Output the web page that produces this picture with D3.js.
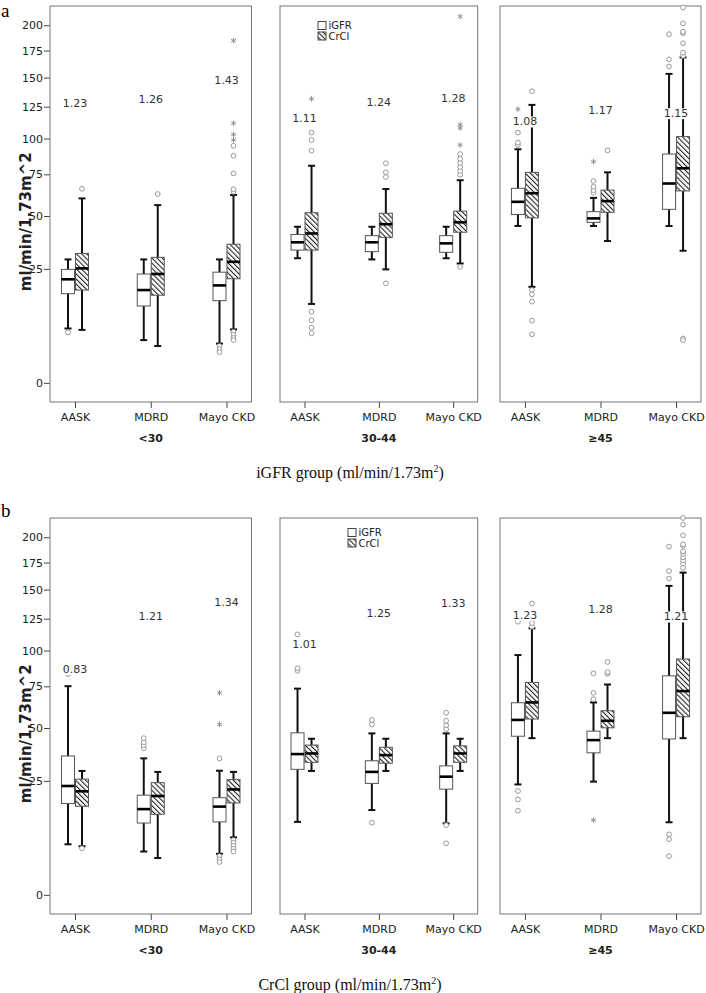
<!DOCTYPE html>
<html><head><meta charset="utf-8">
<script src="https://cdn.jsdelivr.net/npm/d3@7"></script>
<style>body{margin:0;background:#fff}svg{display:block}</style>
</head><body>
<script>
// ---------- data ----------
const facets = ["<30", "30-44", "\u226545"];
const studies = ["AASK", "MDRD", "Mayo CKD"];
const seriesNames = ["iGFR", "CrCl"];
const yTicks = [0, 25, 50, 75, 100, 125, 150, 175, 200];

// Panel a (iGFR group): [min, q1, median, q3, max] per facet x study
const aIGFR = [
  [6.5, 16.0, 21.0, 24.8, 28.9], [4.2, 12.2, 17.2, 23.0, 28.9], [3.6, 13.8, 18.8, 23.7, 28.9],
  [29.4, 33.0, 36.6, 40.4, 44.3], [28.9, 32.3, 36.6, 39.8, 44.3], [29.4, 32.0, 36.1, 39.8, 44.3],
  [44.7, 50.8, 58.0, 66.1, 92.2], [44.7, 46.6, 48.7, 52.4, 60.3], [44.7, 53.7, 69.1, 88.8, 153.3]
];
const aCrCl = [
  [6.2, 17.2, 25.2, 31.5, 60.0], [3.2, 15.5, 23.0, 29.8, 56.1], [6.3, 21.2, 27.9, 35.7, 62.0],
  [12.8, 33.0, 40.9, 51.8, 80.7], [24.8, 39.0, 45.6, 51.5, 65.7], [27.2, 41.5, 46.6, 52.7, 71.2],
  [18.3, 49.0, 63.1, 76.3, 126.5], [37.2, 52.0, 58.4, 65.0, 76.3], [32.7, 64.5, 79.0, 101.5, 168.5]
];
const aIGFRCircles = [
  [5.7], [], [3.2, 2.7, 2.3],
  [], [], [],
  [95.3, 97, 104.5], [63.4, 65, 67.1, 70.7], [160, 166.7, 191]
];
const aCrClCircles = [
  [65.8], [62.6], [64, 65.5, 75.6, 87.6, 94.7, 5.8, 5.2, 4.6, 4.2],
  [91.2, 99, 104.5, 10.6, 8.4, 6.7, 5.5], [73.3, 76.3, 82.4, 19.5], [74.8, 77.3, 79.9, 82.6, 85.5, 88.8, 25.8],
  [138, 17.2, 15.8, 13.5, 8.3, 5.3], [91.4], [170, 173, 182, 192, 193.5, 202, 218.5, 4.5, 4.2]
];
const aIGFRStars = [[], [], [], [], [], [], [123], [83.5], []];
const aCrClStars = [[], [], [99, 103, 111.7, 184.6], [131.6], [], [95.3, 108, 110.5, 209], [], [], []];
const aRatios = ["1.23", "1.26", "1.43", "1.11", "1.24", "1.28", "1.08", "1.17", "1.15"];
const aRatioAt = [128, 131, 148, 115.6, 128.6, 131.8, 113, 122.2, 119.6];

// Panel b (CrCl group)
const bIGFR = [
  [5.7, 16.7, 23.0, 35.8, 75.1], [4.3, 10.8, 14.9, 19.6, 34.7], [3.9, 11.1, 15.7, 18.7, 29.2],
  [11.1, 29.8, 36.7, 47.4, 73.5], [14.6, 24.0, 28.7, 33.6, 47.1], [10.7, 21.8, 26.7, 31.3, 47.1],
  [23.6, 45.6, 54.5, 64.6, 96.7], [24.7, 37.3, 43.6, 48.3, 64.8], [11.0, 44.2, 58.6, 82.0, 153.3]
];
const bCrCl = [
  [5.3, 15.8, 21.0, 25.7, 29.1], [3.2, 13.3, 19.3, 24.3, 28.7], [7.2, 16.9, 21.7, 25.5, 28.7],
  [29.1, 32.9, 37.0, 41.1, 44.3], [29.1, 32.5, 36.2, 40.0, 44.3], [29.1, 32.9, 37.0, 40.7, 44.3],
  [44.6, 55.0, 64.8, 77.6, 117.2], [44.6, 50.1, 54.0, 59.8, 76.2], [44.6, 56.3, 71.9, 93.8, 165.5]
];
const bIGFRCircles = [
  [83.2], [39.5, 41, 42.5, 44.6], [34.7, 3.5, 3.0, 2.6],
  [85.5, 87.2, 112.4], [52, 54.5, 10.9], [49.4, 51.5, 54, 58.6, 10.2, 5.9],
  [122.5, 21.1, 18.1, 14.4], [66.8, 70.8, 83.7], [160, 166.9, 190.6, 7.9, 6.8, 3.5]
];
const bCrClCircles = [
  [4.9], [], [6.6, 6.0, 5.4, 4.8, 4.3],
  [], [], [],
  [118.5, 121.5, 137.7], [83.5, 84.5, 91.7], [170, 174, 177, 180, 183.6, 186, 191.4, 193, 202, 213, 220]
];
const bIGFRStars = [[], [], [52.0, 70.8], [], [], [], [], [11.6], []];
const bCrClStars = [[], [], [], [], [], [], [], [], []];
const bRatios = ["0.83", "1.21", "1.34", "1.01", "1.25", "1.33", "1.23", "1.28", "1.21"];
const bRatioAt = [86.7, 126.7, 139.3, 105, 129.4, 137.7, 128.2, 132.8, 126.7];

// ---------- layout ----------
const W = 706, H = 993;
const svg = d3.select("body").append("svg").attr("width", W).attr("height", H)
  .style("font-family", "'DejaVu Sans', sans-serif");

const defs = svg.append("defs");
defs.append("pattern").attr("id", "hatch").attr("patternUnits", "userSpaceOnUse")
  .attr("width", 3.6).attr("height", 3.6).attr("patternTransform", "rotate(-45)")
  .call(p => {
    p.append("rect").attr("width", 3.6).attr("height", 3.6).attr("fill", "#fff");
    p.append("line").attr("x1", 0).attr("x2", 0).attr("y1", 0).attr("y2", 3.6)
      .attr("stroke", "#222").attr("stroke-width", 2.2);
  });

const facetLeft = [50, 280, 500], facetRight = [251.5, 477.7, 701];
const plotTop = 6, plotBottom = 402;
const y = d3.scalePow().exponent(0.55).domain([-0.98, 220]).range([plotBottom, plotTop]);
const boxW = 14, capW = 7;

const panels = [
  {letter: "a", off: 0, title: "iGFR group (ml/min/1.73m", legend: [318, 21.5], letterY: 17,
   igfr: aIGFR, crcl: aCrCl, ic: aIGFRCircles, cc: aCrClCircles, is: aIGFRStars, cs: aCrClStars,
   ratios: aRatios, ratioAt: aRatioAt},
  {letter: "b", off: 512, title: "CrCl group (ml/min/1.73m", legend: [348, 16.5], letterY: 5,
   igfr: bIGFR, crcl: bCrCl, ic: bIGFRCircles, cc: bCrClCircles, is: bIGFRStars, cs: bCrClStars,
   ratios: bRatios, ratioAt: bRatioAt}
];

const star = d3.symbol().type(d3.symbolAsterisk).size(22);

panels.forEach(P => {
  const g = svg.append("g").attr("transform", `translate(0,${P.off})`);
  g.append("text").attr("x", 1).attr("y", P.letterY).text(P.letter)
    .attr("font-family", "'Liberation Serif', 'Times New Roman', serif").attr("font-size", 19).attr("fill", "#000");

  // y axis title
  g.append("text").attr("transform", `translate(31,${(y(100) + y(25)) / 2 + 18}) rotate(-90)`)
    .attr("text-anchor", "middle").attr("font-weight", "bold").attr("font-size", 15).attr("fill", "#222")
    .text("ml/min/1.73m^2");

  // y axis
  const ya = g.append("g").attr("transform", `translate(${facetLeft[0]},0)`)
    .call(d3.axisLeft(y).tickValues(yTicks).tickSize(6).tickPadding(1).tickFormat(d3.format("d")));
  ya.select(".domain").remove();
  ya.selectAll(".tick line").attr("stroke", "#444");
  ya.selectAll(".tick text").attr("font-size", 11).attr("fill", "#222").attr("font-family", "'DejaVu Sans', sans-serif");

  facets.forEach((fname, fi) => {
    const x = d3.scalePoint().domain(studies).range([facetLeft[fi], facetRight[fi]]).padding(0.33);
    const fg = g.append("g");
    fg.append("rect").attr("x", facetLeft[fi]).attr("y", plotTop)
      .attr("width", facetRight[fi] - facetLeft[fi]).attr("height", plotBottom - plotTop)
      .attr("fill", "none").attr("stroke", "#777").attr("stroke-width", 1);
    const xa = fg.append("g").attr("transform", `translate(0,${plotBottom})`)
      .call(d3.axisBottom(x).tickSize(6).tickPadding(5));
    xa.select(".domain").remove();
    xa.selectAll(".tick line").attr("stroke", "#444");
    xa.selectAll(".tick text").attr("font-size", 11).attr("fill", "#222").attr("font-family", "'DejaVu Sans', sans-serif");
    fg.append("text").attr("x", (facetLeft[fi] + facetRight[fi]) / 2).attr("y", 442)
      .attr("text-anchor", "middle").attr("font-weight", "bold").attr("font-size", 11).attr("fill", "#222")
      .text(fname);

    studies.forEach((s, si) => {
      const k = fi * 3 + si;
      const cx = x(s);
      [[P.igfr[k], P.ic[k], P.is[k], cx - boxW, false], [P.crcl[k], P.cc[k], P.cs[k], cx, true]]
        .forEach(([st, circ, stars, x0, hatched]) => {
          const mx = x0 + boxW / 2;
          const bg = fg.append("g");
          bg.append("line").attr("x1", mx).attr("x2", mx).attr("y1", y(st[0])).attr("y2", y(st[4]))
            .attr("stroke", "#111").attr("stroke-width", 2);
          [st[0], st[4]].forEach(v => bg.append("line").attr("x1", mx - capW / 2).attr("x2", mx + capW / 2)
            .attr("y1", y(v)).attr("y2", y(v)).attr("stroke", "#111").attr("stroke-width", 2));
          bg.append("rect").attr("x", x0 + 0.5).attr("y", y(st[3])).attr("width", boxW - 1)
            .attr("height", y(st[1]) - y(st[3])).attr("fill", hatched ? "url(#hatch)" : "#fff")
            .attr("stroke", "#555").attr("stroke-width", 1);
          bg.append("line").attr("x1", x0 + 0.5).attr("x2", x0 + boxW - 0.5).attr("y1", y(st[2])).attr("y2", y(st[2]))
            .attr("stroke", "#000").attr("stroke-width", 2.6);
          circ.forEach(v => bg.append("circle").attr("cx", mx).attr("cy", y(v)).attr("r", 2.4)
            .attr("fill", "#fff").attr("stroke", "#999").attr("stroke-width", 1));
          stars.forEach(v => bg.append("path").attr("d", star).attr("transform", `translate(${mx},${y(v)})`)
            .attr("fill", "none").attr("stroke", "#888").attr("stroke-width", 0.9));
        });
    });

    studies.forEach((s, si) => {
      const k = fi * 3 + si;
      const t = fg.append("text").attr("x", x(s)).attr("y", y(P.ratioAt[k])).attr("dy", "0.35em")
        .attr("text-anchor", "middle").attr("font-size", 11).attr("fill", "#333").text(P.ratios[k]);
      const bb = t.node().getBBox();
      fg.insert("rect", () => t.node()).attr("x", bb.x - 1).attr("y", bb.y + 1).attr("width", bb.width + 2)
        .attr("height", bb.height - 2).attr("fill", "#fff");
    });
  });

  const [lx, ly] = P.legend;
  const lg = g.append("g");
  seriesNames.forEach((n, i) => {
    lg.append("rect").attr("x", lx).attr("y", ly + i * 10.5).attr("width", 8).attr("height", 8)
      .attr("fill", i ? "url(#hatch)" : "#fff").attr("stroke", "#444").attr("stroke-width", 1);
    lg.append("text").attr("x", lx + 10.5).attr("y", ly + i * 10.5 + 4).attr("dy", "0.35em")
      .attr("font-size", 10).attr("fill", "#222").text(n);
  });

  const tt = g.append("text").attr("x", 350).attr("y", 478).attr("text-anchor", "middle")
    .attr("font-family", "'Liberation Serif', 'Times New Roman', serif").attr("font-size", 16).attr("fill", "#111");
  tt.append("tspan").text(P.title);
  tt.append("tspan").attr("dy", -6).attr("font-size", 10).text("2");
  tt.append("tspan").attr("dy", 6).text(")");
});
</script>
</body></html>
